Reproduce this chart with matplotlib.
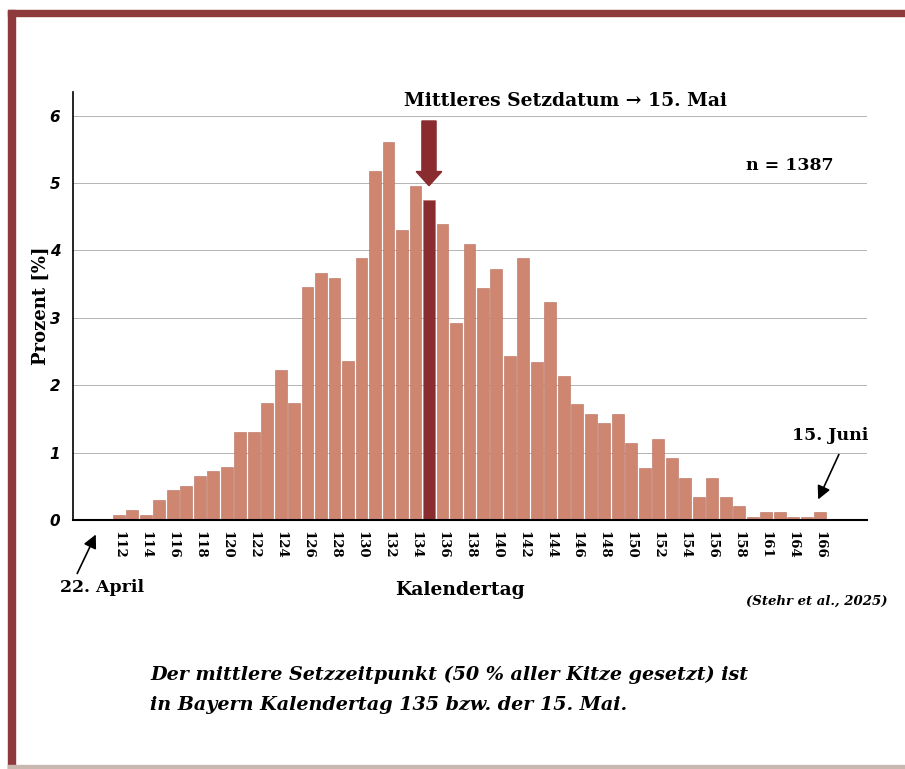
import matplotlib
matplotlib.use("Agg")
import matplotlib.pyplot as plt
from matplotlib.patches import Rectangle

# Kalendertage (nach 158 nur einzelne Tage belegt)
days = list(range(112, 159)) + [159, 161, 162, 164, 165, 166]
percent = [0.08, 0.15, 0.07, 0.30, 0.44, 0.51, 0.65, 0.72, 0.79, 1.30,
           1.30, 1.73, 2.23, 1.74, 3.46, 3.67, 3.59, 2.36, 3.89, 5.18,
           5.61, 4.30, 4.96, 4.75, 4.39, 2.93, 4.09, 3.44, 3.72, 2.43,
           3.89, 2.35, 3.23, 2.14, 1.72, 1.57, 1.44, 1.57, 1.14, 0.77,
           1.20, 0.92, 0.63, 0.34, 0.62, 0.34, 0.21, 0.05, 0.12, 0.12,
           0.05, 0.05, 0.12]
median_day = 135
yticks = [0, 1, 2, 3, 4, 5, 6]

bar_col = "#cf8670"
dark_col = "#8a2b2f"
frame_col = "#8e3a3c"
serif = "DejaVu Serif"

W, H = 905, 769


def px(x, y):
    return x / W, 1 - y / H


fig = plt.figure(figsize=(9.05, 7.69), dpi=100)

# rahmen
fig.patches.append(Rectangle(px(8, 769), 7 / W, 759 / H, transform=fig.transFigure,
                             color=frame_col, zorder=0))
fig.patches.append(Rectangle(px(8, 16), 897 / W, 6 / H, transform=fig.transFigure,
                             color=frame_col, zorder=0))
fig.patches.append(Rectangle(px(8, 769), 897 / W, 4 / H, transform=fig.transFigure,
                             color="#c9b8b0", zorder=0))

l, b = px(72.7, 520)
r, t = px(867, 92)
ax = fig.add_axes([l, b, r - l, t - b])

pos = list(range(len(days)))
colors = [dark_col if d == median_day else bar_col for d in days]
ax.bar(pos, percent, width=0.88, color=colors, edgecolor="#b86f5c", linewidth=0.4, zorder=2)

ax.set_xlim(-3.41, 55.47)
ax.set_ylim(0, 6.35)
ax.set_yticks(yticks)
ax.set_yticklabels([str(v) for v in yticks], fontweight="bold", fontstyle="italic",
                   fontsize=11)
ax.set_xticks(pos[::2])
ax.set_xticklabels([str(d) for d in days[::2]], rotation=-90, fontfamily=serif,
                   fontweight="bold", fontsize=9.5)
ax.tick_params(axis="both", length=0)
ax.tick_params(axis="x", pad=8)
ax.tick_params(axis="y", pad=9)
ax.grid(axis="y", color="#b4b4b4", linewidth=0.7, zorder=0)
for s in ["top", "right"]:
    ax.spines[s].set_visible(False)
ax.spines["left"].set_linewidth(1.2)
ax.spines["bottom"].set_linewidth(1.5)
ax.set_ylabel("Prozent [%]", fontfamily=serif, fontweight="bold", fontsize=13, labelpad=0)

# pfeil mittleres setzdatum
mi = days.index(median_day)
ax.arrow(mi, 5.92, 0, -0.96, width=1.05, head_width=1.9, head_length=0.21,
         length_includes_head=True, color=dark_col, zorder=3)

fig.text(*px(565, 101), "Mittleres Setzdatum \u2192 15. Mai", fontfamily=serif,
         fontweight="bold", fontsize=13.5, ha="center", va="center")
fig.text(*px(790, 166), "n = 1387", fontfamily=serif, fontweight="bold", fontsize=12.5,
         ha="center", va="center")

fig.text(*px(830, 435), "15. Juni", fontfamily=serif, fontweight="bold", fontsize=12.5,
         ha="center", va="center")
ax.annotate("", xy=px(817, 502), xycoords="figure fraction", xytext=px(840, 452),
            textcoords="figure fraction",
            arrowprops=dict(arrowstyle="-|>,head_length=0.8,head_width=0.4", color="black",
                            lw=1.2))

fig.text(*px(102, 588), "22. April", fontfamily=serif, fontweight="bold", fontsize=12.5,
         ha="center", va="center")
ax.annotate("", xy=px(97, 532), xycoords="figure fraction", xytext=px(76, 576),
            textcoords="figure fraction", annotation_clip=False,
            arrowprops=dict(arrowstyle="-|>,head_length=0.8,head_width=0.4", color="black",
                            lw=1.2))

fig.text(*px(460, 590), "Kalendertag", fontfamily=serif, fontweight="bold", fontsize=13.5,
         ha="center", va="center")
fig.text(*px(887, 601), "(Stehr et al., 2025)", fontfamily=serif, fontweight="bold",
         fontstyle="italic", fontsize=9.5, ha="right", va="center")

fig.text(*px(150, 675), "Der mittlere Setzzeitpunkt (50 % aller Kitze gesetzt) ist",
         fontfamily=serif, fontweight="bold", fontstyle="italic", fontsize=13.8,
         ha="left", va="center")
fig.text(*px(150, 705), "in Bayern Kalendertag 135 bzw. der 15. Mai.",
         fontfamily=serif, fontweight="bold", fontstyle="italic", fontsize=13.8,
         ha="left", va="center")

fig.savefig("out.png", dpi=100)
